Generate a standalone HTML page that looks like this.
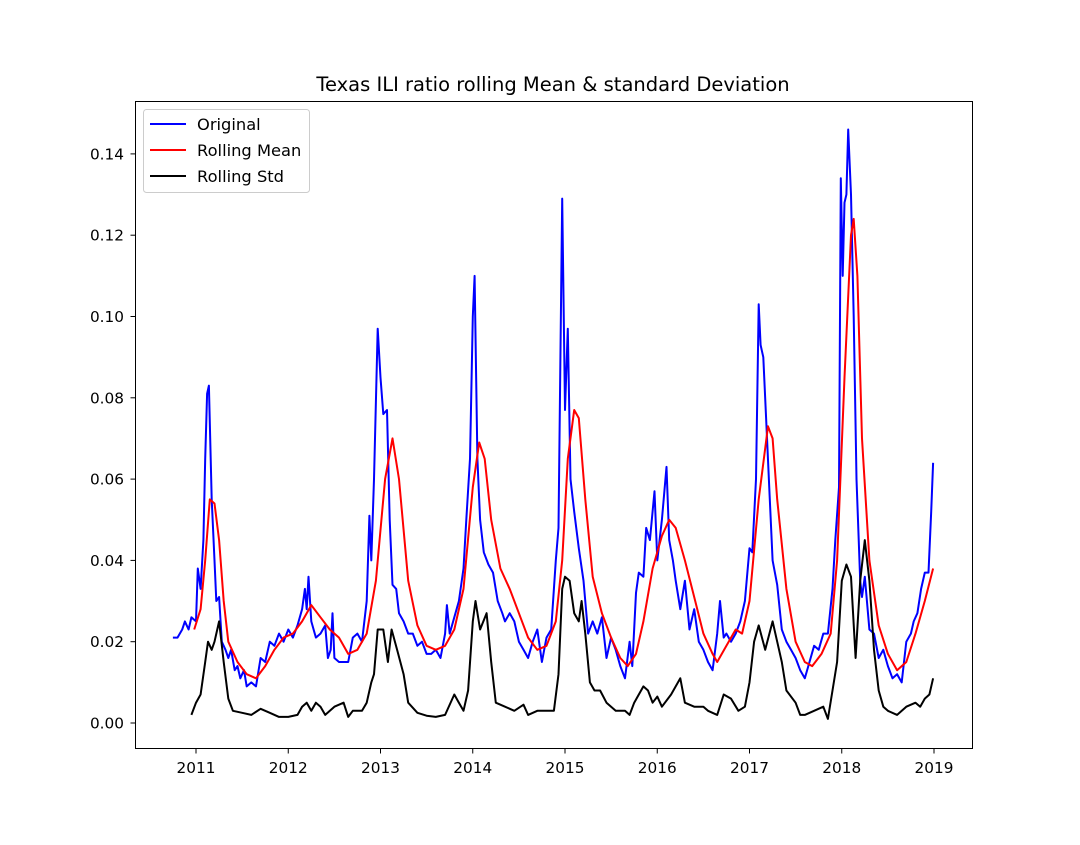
<!DOCTYPE html>
<html><head><meta charset="utf-8"><style>
html,body{margin:0;padding:0;background:#fff;}
svg text{font-family:"DejaVu Sans","Liberation Sans",sans-serif;}
</style></head><body>
<svg id="chart" width="1080" height="840" xmlns="http://www.w3.org/2000/svg">
<rect x="0" y="0" width="1080" height="840" fill="#fff"/>
<text x="553" y="91" text-anchor="middle" font-size="19.5">Texas ILI ratio rolling Mean &amp; standard Deviation</text>
<g id="plot"></g>
<rect x="135.5" y="101.5" width="837" height="647" fill="none" stroke="#000" stroke-width="1"/>
<g>
<rect x="143.5" y="109.5" width="166" height="83" rx="3" fill="#fff" fill-opacity="0.8" stroke="#ccc"/>
<line x1="150" y1="124" x2="186" y2="124" stroke="#0000ff" stroke-width="2"/>
<text x="197" y="130" font-size="16.3">Original</text>
<line x1="150" y1="150" x2="186" y2="150" stroke="#ff0000" stroke-width="2"/>
<text x="197" y="156" font-size="16.3">Rolling Mean</text>
<line x1="150" y1="176" x2="186" y2="176" stroke="#000" stroke-width="2"/>
<text x="197" y="182" font-size="16.3">Rolling Std</text>
</g>
</svg>
<script>
const xTicks=[2011,2012,2013,2014,2015,2016,2017,2018,2019];
const yTicks=[0,0.02,0.04,0.06,0.08,0.10,0.12,0.14];
const origX=[2010.75,2010.8,2010.85,2010.88,2010.92,2010.95,2011.0,2011.02,2011.05,2011.08,2011.1,2011.12,2011.14,2011.17,2011.2,2011.22,2011.25,2011.28,2011.32,2011.35,2011.38,2011.42,2011.45,2011.48,2011.52,2011.55,2011.6,2011.65,2011.7,2011.75,2011.8,2011.85,2011.9,2011.95,2012.0,2012.05,2012.1,2012.15,2012.18,2012.2,2012.22,2012.25,2012.3,2012.35,2012.4,2012.43,2012.46,2012.48,2012.5,2012.55,2012.6,2012.65,2012.7,2012.75,2012.8,2012.85,2012.88,2012.9,2012.93,2012.97,2013.0,2013.03,2013.07,2013.1,2013.13,2013.17,2013.2,2013.25,2013.3,2013.35,2013.4,2013.45,2013.5,2013.55,2013.6,2013.65,2013.7,2013.72,2013.75,2013.8,2013.85,2013.9,2013.93,2013.97,2014.0,2014.02,2014.05,2014.08,2014.12,2014.17,2014.22,2014.27,2014.32,2014.35,2014.4,2014.45,2014.5,2014.55,2014.6,2014.65,2014.7,2014.75,2014.8,2014.85,2014.9,2014.93,2014.97,2015.0,2015.03,2015.06,2015.1,2015.15,2015.2,2015.25,2015.3,2015.35,2015.4,2015.45,2015.5,2015.55,2015.6,2015.65,2015.7,2015.73,2015.77,2015.8,2015.85,2015.88,2015.92,2015.97,2016.0,2016.05,2016.1,2016.13,2016.17,2016.2,2016.25,2016.3,2016.35,2016.4,2016.45,2016.5,2016.55,2016.6,2016.65,2016.68,2016.72,2016.75,2016.8,2016.85,2016.9,2016.95,2017.0,2017.03,2017.07,2017.1,2017.12,2017.15,2017.18,2017.22,2017.25,2017.3,2017.35,2017.4,2017.45,2017.5,2017.55,2017.6,2017.65,2017.7,2017.75,2017.8,2017.85,2017.9,2017.93,2017.97,2017.99,2018.01,2018.03,2018.05,2018.07,2018.1,2018.13,2018.16,2018.2,2018.22,2018.25,2018.3,2018.35,2018.4,2018.45,2018.5,2018.55,2018.6,2018.65,2018.7,2018.75,2018.78,2018.82,2018.86,2018.9,2018.94,2018.97,2018.99];
const origY=[0.021,0.021,0.023,0.025,0.023,0.026,0.025,0.038,0.033,0.045,0.065,0.081,0.083,0.055,0.04,0.03,0.031,0.02,0.018,0.016,0.018,0.013,0.014,0.011,0.013,0.009,0.01,0.009,0.016,0.015,0.02,0.019,0.022,0.02,0.023,0.021,0.024,0.028,0.033,0.028,0.036,0.025,0.021,0.022,0.024,0.016,0.018,0.027,0.016,0.015,0.015,0.015,0.021,0.022,0.02,0.03,0.051,0.04,0.06,0.097,0.085,0.076,0.077,0.05,0.034,0.033,0.027,0.025,0.022,0.022,0.019,0.02,0.017,0.017,0.018,0.016,0.022,0.029,0.022,0.026,0.03,0.038,0.05,0.065,0.1,0.11,0.065,0.05,0.042,0.039,0.037,0.03,0.027,0.025,0.027,0.025,0.02,0.018,0.016,0.02,0.023,0.015,0.021,0.023,0.04,0.048,0.129,0.077,0.097,0.06,0.052,0.043,0.035,0.022,0.025,0.022,0.026,0.016,0.021,0.018,0.014,0.011,0.02,0.014,0.032,0.037,0.036,0.048,0.045,0.057,0.04,0.05,0.063,0.045,0.04,0.035,0.028,0.035,0.023,0.028,0.02,0.018,0.015,0.013,0.022,0.03,0.021,0.022,0.02,0.022,0.025,0.03,0.043,0.042,0.06,0.103,0.093,0.09,0.075,0.055,0.04,0.034,0.023,0.02,0.018,0.016,0.013,0.011,0.015,0.019,0.018,0.022,0.022,0.033,0.045,0.058,0.134,0.11,0.128,0.13,0.146,0.13,0.1,0.06,0.035,0.031,0.036,0.023,0.022,0.016,0.018,0.014,0.011,0.012,0.01,0.02,0.022,0.025,0.027,0.033,0.037,0.037,0.052,0.064];
const meanX=[2010.98,2011.05,2011.1,2011.15,2011.2,2011.25,2011.3,2011.35,2011.45,2011.55,2011.65,2011.75,2011.85,2011.95,2012.05,2012.15,2012.25,2012.35,2012.45,2012.55,2012.65,2012.75,2012.85,2012.95,2013.05,2013.13,2013.2,2013.3,2013.4,2013.5,2013.6,2013.7,2013.8,2013.9,2014.0,2014.07,2014.13,2014.2,2014.3,2014.4,2014.5,2014.6,2014.7,2014.8,2014.9,2014.97,2015.03,2015.1,2015.15,2015.22,2015.3,2015.4,2015.5,2015.6,2015.68,2015.77,2015.85,2015.95,2016.05,2016.13,2016.2,2016.3,2016.4,2016.5,2016.6,2016.65,2016.75,2016.85,2016.92,2017.0,2017.1,2017.2,2017.25,2017.3,2017.4,2017.5,2017.6,2017.68,2017.78,2017.88,2017.95,2018.03,2018.1,2018.13,2018.17,2018.22,2018.3,2018.4,2018.5,2018.6,2018.7,2018.8,2018.9,2018.99];
const meanY=[0.023,0.028,0.04,0.055,0.054,0.045,0.03,0.02,0.015,0.012,0.011,0.014,0.018,0.021,0.022,0.025,0.029,0.026,0.023,0.021,0.017,0.018,0.022,0.035,0.06,0.07,0.06,0.035,0.024,0.019,0.018,0.019,0.023,0.033,0.058,0.069,0.065,0.05,0.038,0.033,0.027,0.021,0.018,0.019,0.025,0.04,0.065,0.077,0.075,0.055,0.036,0.027,0.021,0.016,0.014,0.017,0.025,0.038,0.046,0.05,0.048,0.04,0.031,0.022,0.017,0.015,0.019,0.023,0.022,0.03,0.055,0.073,0.07,0.055,0.033,0.02,0.015,0.014,0.017,0.022,0.04,0.085,0.12,0.124,0.11,0.07,0.04,0.024,0.017,0.013,0.015,0.022,0.03,0.038];
const stdX=[2010.95,2011.0,2011.05,2011.1,2011.13,2011.17,2011.2,2011.25,2011.3,2011.35,2011.4,2011.5,2011.6,2011.7,2011.8,2011.9,2012.0,2012.1,2012.15,2012.2,2012.25,2012.3,2012.35,2012.4,2012.5,2012.6,2012.65,2012.7,2012.8,2012.85,2012.9,2012.93,2012.97,2013.03,2013.08,2013.12,2013.18,2013.25,2013.3,2013.4,2013.5,2013.6,2013.7,2013.8,2013.85,2013.9,2013.95,2014.0,2014.03,2014.08,2014.15,2014.2,2014.25,2014.35,2014.45,2014.55,2014.6,2014.7,2014.8,2014.88,2014.93,2014.97,2015.0,2015.05,2015.1,2015.15,2015.18,2015.22,2015.27,2015.32,2015.38,2015.45,2015.55,2015.65,2015.7,2015.75,2015.85,2015.9,2015.95,2016.0,2016.05,2016.15,2016.25,2016.3,2016.4,2016.5,2016.55,2016.65,2016.72,2016.8,2016.88,2016.95,2017.0,2017.05,2017.1,2017.17,2017.25,2017.3,2017.35,2017.4,2017.5,2017.55,2017.6,2017.7,2017.8,2017.85,2017.9,2017.95,2018.0,2018.05,2018.1,2018.15,2018.2,2018.25,2018.3,2018.35,2018.4,2018.45,2018.5,2018.6,2018.7,2018.8,2018.85,2018.9,2018.95,2018.99];
const stdY=[0.002,0.005,0.007,0.015,0.02,0.018,0.02,0.025,0.015,0.006,0.003,0.0025,0.002,0.0035,0.0025,0.0015,0.0015,0.002,0.004,0.005,0.003,0.005,0.004,0.002,0.004,0.005,0.0015,0.003,0.003,0.005,0.01,0.012,0.023,0.023,0.015,0.023,0.018,0.012,0.005,0.0025,0.0018,0.0015,0.002,0.007,0.005,0.003,0.008,0.025,0.03,0.023,0.027,0.015,0.005,0.004,0.003,0.0045,0.002,0.003,0.003,0.003,0.012,0.033,0.036,0.035,0.027,0.025,0.03,0.022,0.01,0.008,0.008,0.005,0.003,0.003,0.002,0.005,0.009,0.008,0.005,0.0065,0.004,0.007,0.011,0.005,0.004,0.004,0.003,0.002,0.007,0.006,0.003,0.004,0.01,0.02,0.024,0.018,0.025,0.02,0.015,0.008,0.005,0.002,0.002,0.003,0.004,0.001,0.008,0.015,0.035,0.039,0.036,0.016,0.035,0.045,0.035,0.018,0.008,0.004,0.003,0.002,0.004,0.005,0.004,0.006,0.007,0.011];

const NS='http://www.w3.org/2000/svg';
const plot=document.getElementById('plot');
function sx(v){return 196+(v-2011)*92.25;}
function sy(v){return 723-v*4065;}
function mk(tag,attrs){const e=document.createElementNS(NS,tag);for(const k in attrs)e.setAttribute(k,attrs[k]);return e;}

xTicks.forEach(t=>{
  const l=mk('line',{x1:sx(t),x2:sx(t),y1:748.5,y2:753.5,stroke:'#000'});
  
  
  plot.appendChild(l);
  const tx=mk('text',{x:sx(t),y:773,'text-anchor':'middle','font-size':'15.3'});
  tx.textContent=t;
  
  
  plot.appendChild(tx);
});
yTicks.forEach(t=>{
  const l=mk('line',{x1:130.5,x2:135.5,y1:sy(t),y2:sy(t),stroke:'#000'});
  
  
  plot.appendChild(l);
  const tx=mk('text',{x:124,y:sy(t)+5.5,'text-anchor':'end','font-size':'15.3'});
  tx.textContent=t.toFixed(2);
  
  
  plot.appendChild(tx);
});
function line(xs,ys,color){
  const d=xs.map((x,i)=>(i?'L':'M')+sx(x).toFixed(1)+','+sy(ys[i]).toFixed(1)).join(' ');
  return mk('path',{d:d,fill:'none',stroke:color,'stroke-width':2,'stroke-linejoin':'round'});
}
const p1=line(origX,origY,'#0000ff');


plot.appendChild(p1);
const p2=line(meanX,meanY,'#ff0000');


plot.appendChild(p2);
const p3=line(stdX,stdY,'#000000');


plot.appendChild(p3);
</script>
</body></html>
